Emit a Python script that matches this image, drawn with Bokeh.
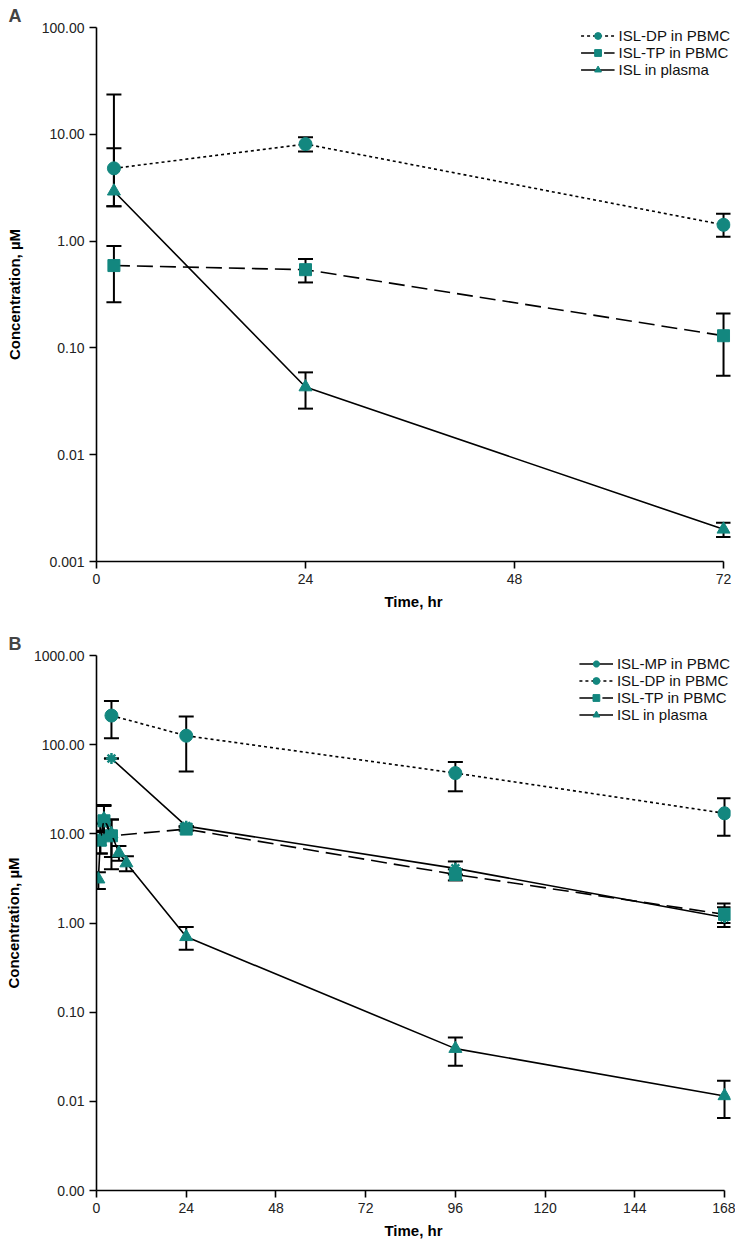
from bokeh.plotting import figure
from bokeh.layouts import column
from bokeh.models import (ColumnDataSource, Whisker, TeeHead, FixedTicker,
                          CustomJSTickFormatter, Legend, LegendItem, Range1d)
from bokeh.embed import file_html
from bokeh.resources import INLINE

# ---------------- data: panel A ----------------
a_time = [2, 24, 72]
a_dp = [4.8, 8.1, 1.42]
a_dp_hi = [23.6, 9.4, 1.8]
a_dp_lo = [2.12, 6.9, 1.1]
a_tp = [0.59, 0.54, 0.13]
a_tp_hi = [0.90, 0.68, 0.21]
a_tp_lo = [0.267, 0.41, 0.055]
a_pl = [2.93, 0.043, 0.0020]
a_pl_hi = [7.4, 0.059, 0.0023]
a_pl_lo = [2.12, 0.027, 0.0017]
a_xticks = [0, 24, 48, 72]
a_yticks = [0.001, 0.01, 0.1, 1, 10, 100]

# ---------------- data: panel B ----------------
b_mp_time = [4, 24, 96, 168]
b_mp = [70, 12.2, 4.1, 1.15]
b_mp_hi = [70, 12.2, 4.9, 1.5]
b_mp_lo = [70, 12.2, 3.5, 0.9]
b_dp_time = [4, 24, 96, 168]
b_dp = [212, 126, 48, 17]
b_dp_hi = [309, 207, 64, 25]
b_dp_lo = [118, 50, 30, 9.5]
b_tp_time = [1, 2, 4, 24, 96, 168]
b_tp = [8.5, 14.0, 9.5, 11.3, 3.5, 1.25]
b_tp_hi = [13.0, 21.0, 14.5, 11.8, 4.0, 1.65]
b_tp_lo = [6.0, 9.0, 4.0, 10.8, 3.0, 1.0]
b_pl_time = [0.5, 1, 2, 4, 6, 8, 24, 96, 168]
b_pl = [3.1, 8.1, 14.7, 10.0, 6.1, 4.7, 0.70, 0.039, 0.0115]
b_pl_hi = [3.7, 10.5, 20.5, 14.5, 7.3, 5.6, 0.90, 0.052, 0.017]
b_pl_lo = [2.4, 6.0, 10.8, 5.5, 5.0, 3.8, 0.50, 0.025, 0.0065]
b_xticks = [0, 24, 48, 72, 96, 120, 144, 168]
b_yticks = [0.001, 0.01, 0.1, 1, 10, 100, 1000]

TEAL = "#13877f"
FONT = "Liberation Sans"


def style(p, xticks, yticks, fmt_code, xbound, ylabel_standoff):
    p.xgrid.visible = False
    p.ygrid.visible = False
    p.outline_line_color = None
    p.background_fill_color = "white"
    p.border_fill_color = "white"
    for ax in (p.xaxis[0], p.yaxis[0]):
        ax.axis_line_width = 1.6
        ax.axis_line_color = "black"
        ax.major_tick_line_width = 1.6
        ax.major_tick_line_color = "black"
        ax.major_tick_out = 7
        ax.major_tick_in = 0
        ax.minor_tick_line_color = None
        ax.major_label_text_font = FONT
        ax.major_label_text_font_size = "14px"
        ax.major_label_text_color = "#222222"
        ax.axis_label_text_font = FONT
        ax.axis_label_text_font_size = "15px"
        ax.axis_label_text_font_style = "bold"
        ax.axis_label_text_color = "black"
    p.xaxis[0].ticker = FixedTicker(ticks=xticks)
    p.xaxis[0].bounds = xbound
    p.xaxis[0].axis_label = "Time, hr"
    p.xaxis[0].axis_label_standoff = 6
    p.yaxis[0].ticker = FixedTicker(ticks=yticks)
    p.yaxis[0].formatter = CustomJSTickFormatter(code=fmt_code)
    p.yaxis[0].axis_label = "Concentration, µM"
    p.yaxis[0].axis_label_standoff = ylabel_standoff
    p.title.text_font = FONT
    p.title.text_font_size = "18px"
    p.title.text_font_style = "bold"
    p.title.align = "left"
    p.title.offset = -88
    p.title.standoff = 4


def series(p, src_kwargs, marker, dash, size):
    src = ColumnDataSource(src_kwargs)
    w = Whisker(source=src, base="t", upper="hi", lower="lo",
                line_color="black", line_width=2,
                upper_head=TeeHead(size=15, line_width=2, line_color="black"),
                lower_head=TeeHead(size=15, line_width=2, line_color="black"))
    p.add_layout(w)
    lr = p.line("t", "v", source=src, line_color="black", line_width=1.6,
                line_dash=dash)
    if marker == "asterisk":
        mr = p.scatter("t", "v", source=src, marker=marker, size=size,
                       line_color=TEAL, line_width=2.5)
    else:
        mr = p.scatter("t", "v", source=src, marker=marker, size=size,
                       fill_color=TEAL, line_color=TEAL)
    return lr, mr


def add_legend(p, items):
    leg = Legend(items=[LegendItem(label=l, renderers=list(r)) for l, r in items],
                 location="top_right", border_line_color=None,
                 background_fill_alpha=0, label_text_font=FONT,
                 label_text_font_size="15px", label_text_color="#111111",
                 glyph_width=34, glyph_height=17, label_height=17,
                 label_standoff=4, spacing=0, padding=0, margin=0)
    p.add_layout(leg)


# ---------------- panel A ----------------
pa = figure(width=735, height=618, y_axis_type="log", title="A",
            x_range=Range1d(0, 72.8), y_range=Range1d(0.001, 100),
            output_backend="svg", toolbar_location=None,
            min_border_left=96, min_border_right=4,
            min_border_top=27, min_border_bottom=57)
style(pa, a_xticks, a_yticks,
      "return tick < 0.005 ? tick.toFixed(3) : tick.toFixed(2);", (0, 72), 16)

dp_a = series(pa, dict(t=a_time, v=a_dp, hi=a_dp_hi, lo=a_dp_lo), "circle", "3 3", 13)
tp_a = series(pa, dict(t=a_time, v=a_tp, hi=a_tp_hi, lo=a_tp_lo), "square", "16 7", 12)
pl_a = series(pa, dict(t=a_time, v=a_pl, hi=a_pl_hi, lo=a_pl_lo), "triangle", "solid", 13)
add_legend(pa, [("ISL-DP in PBMC", dp_a), ("ISL-TP in PBMC", tp_a),
                ("ISL in plasma", pl_a)])

# ---------------- panel B ----------------
pb = figure(width=735, height=626, y_axis_type="log", title="B",
            x_range=Range1d(0, 169.6), y_range=Range1d(0.001, 1000),
            output_backend="svg", toolbar_location=None,
            min_border_left=96, min_border_right=5,
            min_border_top=37, min_border_bottom=54)
style(pb, b_xticks, b_yticks, "return tick.toFixed(2);", (0, 168), 9)

mp_b = series(pb, dict(t=b_mp_time, v=b_mp, hi=b_mp_hi, lo=b_mp_lo), "asterisk", "solid", 11)
dp_b = series(pb, dict(t=b_dp_time, v=b_dp, hi=b_dp_hi, lo=b_dp_lo), "circle", "3 3", 13)
tp_b = series(pb, dict(t=b_tp_time, v=b_tp, hi=b_tp_hi, lo=b_tp_lo), "square", "16 7", 12)
pl_b = series(pb, dict(t=b_pl_time, v=b_pl, hi=b_pl_hi, lo=b_pl_lo), "triangle", "solid", 13)
add_legend(pb, [("ISL-MP in PBMC", mp_b), ("ISL-DP in PBMC", dp_b),
                ("ISL-TP in PBMC", tp_b), ("ISL in plasma", pl_b)])

layout = column(pa, pb, spacing=0)
open("out.html", "w").write(file_html(layout, INLINE))
